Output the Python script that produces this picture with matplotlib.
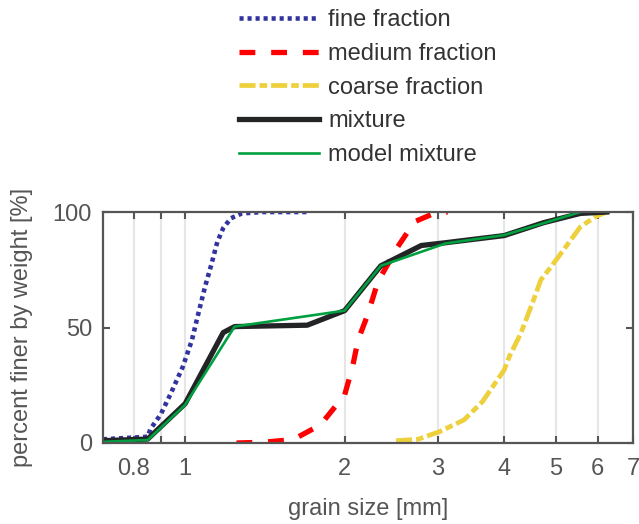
import matplotlib.pyplot as plt

# grain size [mm] and percent finer for each sieved fraction
fine_x = [0.70, 0.85, 0.86, 0.90, 0.94, 0.99, 1.03, 1.05, 1.09, 1.12, 1.15, 1.18, 1.22, 1.28, 1.40, 1.70]
fine_y = [1.6, 2.7, 6.0, 12.5, 21.5, 33, 44.5, 52.5, 67.5, 77, 87, 93, 97.3, 99.4, 100, 100]

medium_x = [1.25, 1.40, 1.60, 1.80, 2.00, 2.07, 2.12, 2.21, 2.31, 2.52, 2.71, 2.97, 3.13]
medium_y = [0, 0.3, 1.5, 7.8, 20.8, 33, 44.6, 55.4, 69.8, 85, 95.8, 99.7, 100]

coarse_x = [2.50, 2.75, 3.02, 3.36, 3.64, 4.00, 4.09, 4.30, 4.52, 4.69, 4.93, 5.23, 5.57, 5.95, 6.25]
coarse_y = [1.0, 1.6, 4.9, 10, 17.9, 31.6, 37.4, 47.5, 60.5, 70.6, 77, 85, 93.6, 98, 100]

mix_x = [0.70, 0.85, 1.00, 1.18, 1.24, 1.70, 2.00, 2.34, 2.79, 3.10, 4.00, 4.75, 5.57, 6.25]
mix_y = [1.0, 1.7, 17, 47.8, 50.4, 51, 57.3, 76.7, 85.5, 86.7, 89.8, 95.4, 99.4, 100]

model_x = [0.70, 0.85, 1.00, 1.24, 2.00, 2.34, 3.10, 4.00, 5.57]
model_y = [0.5, 1.3, 16.5, 50.4, 57.3, 76.7, 86.4, 90.0, 100]

xticks = [0.8, 0.9, 1, 2, 3, 4, 5, 6, 7]
xticklabels = ['0.8', '', '1', '2', '3', '4', '5', '6', '7']
yticks = [0, 50, 100]

plt.rcParams['font.family'] = ['Liberation Sans', 'DejaVu Sans']
text_gray = '#555555'
axis_gray = '#555555'
fs = 17

fig = plt.figure(figsize=(6.39, 5.24), dpi=100)
ax = fig.add_axes([0.1612, 0.1546, 0.8294, 0.4408])

ax.plot(fine_x, fine_y, color='#3333a0', lw=3.3, linestyle=(0, (0.9, 0.85)), label='fine fraction')
ax.plot(medium_x, medium_y, color='#ff0000', lw=3.8, linestyle=(0, (3, 3)), label='medium fraction')
ax.plot(coarse_x, coarse_y, color='#edd03c', lw=3.4, linestyle=(0, (3.4, 0.85, 1.6, 0.85)), label='coarse fraction')
ax.plot(mix_x, mix_y, color='#222426', lw=3.8, label='mixture')
ax.plot(model_x, model_y, color='#00a040', lw=1.9, label='model mixture')

ax.set_xscale('log')
ax.set_xlim(0.7, 7)
ax.set_ylim(0, 100)
ax.set_xticks(xticks)
ax.set_xticklabels(xticklabels)
ax.xaxis.set_minor_locator(plt.NullLocator())
ax.set_yticks(yticks)

ax.xaxis.grid(True, color='#e6e6e6', lw=1.5)
ax.set_axisbelow(True)
for s in ax.spines.values():
    s.set_color(axis_gray)
    s.set_linewidth(1.6)
ax.tick_params(direction='in', top=True, right=True, length=5, width=1.5,
               color=axis_gray, labelcolor=text_gray, labelsize=fs)
ax.tick_params(axis='x', pad=11)
ax.tick_params(axis='y', pad=8)

ax.set_xlabel('grain size [mm]', fontsize=fs, color=text_gray, labelpad=13)
ax.set_ylabel('percent finer by weight [%]', fontsize=fs, color=text_gray, labelpad=14)

fig.legend(loc='upper left', bbox_to_anchor=(239 / 639, 1 - 9.5 / 524), frameon=False,
           fontsize=fs, handlelength=3.39, handletextpad=0.38, labelspacing=0.49,
           borderpad=0, borderaxespad=0, labelcolor='#333333')

fig.savefig('out.png', dpi=100)
